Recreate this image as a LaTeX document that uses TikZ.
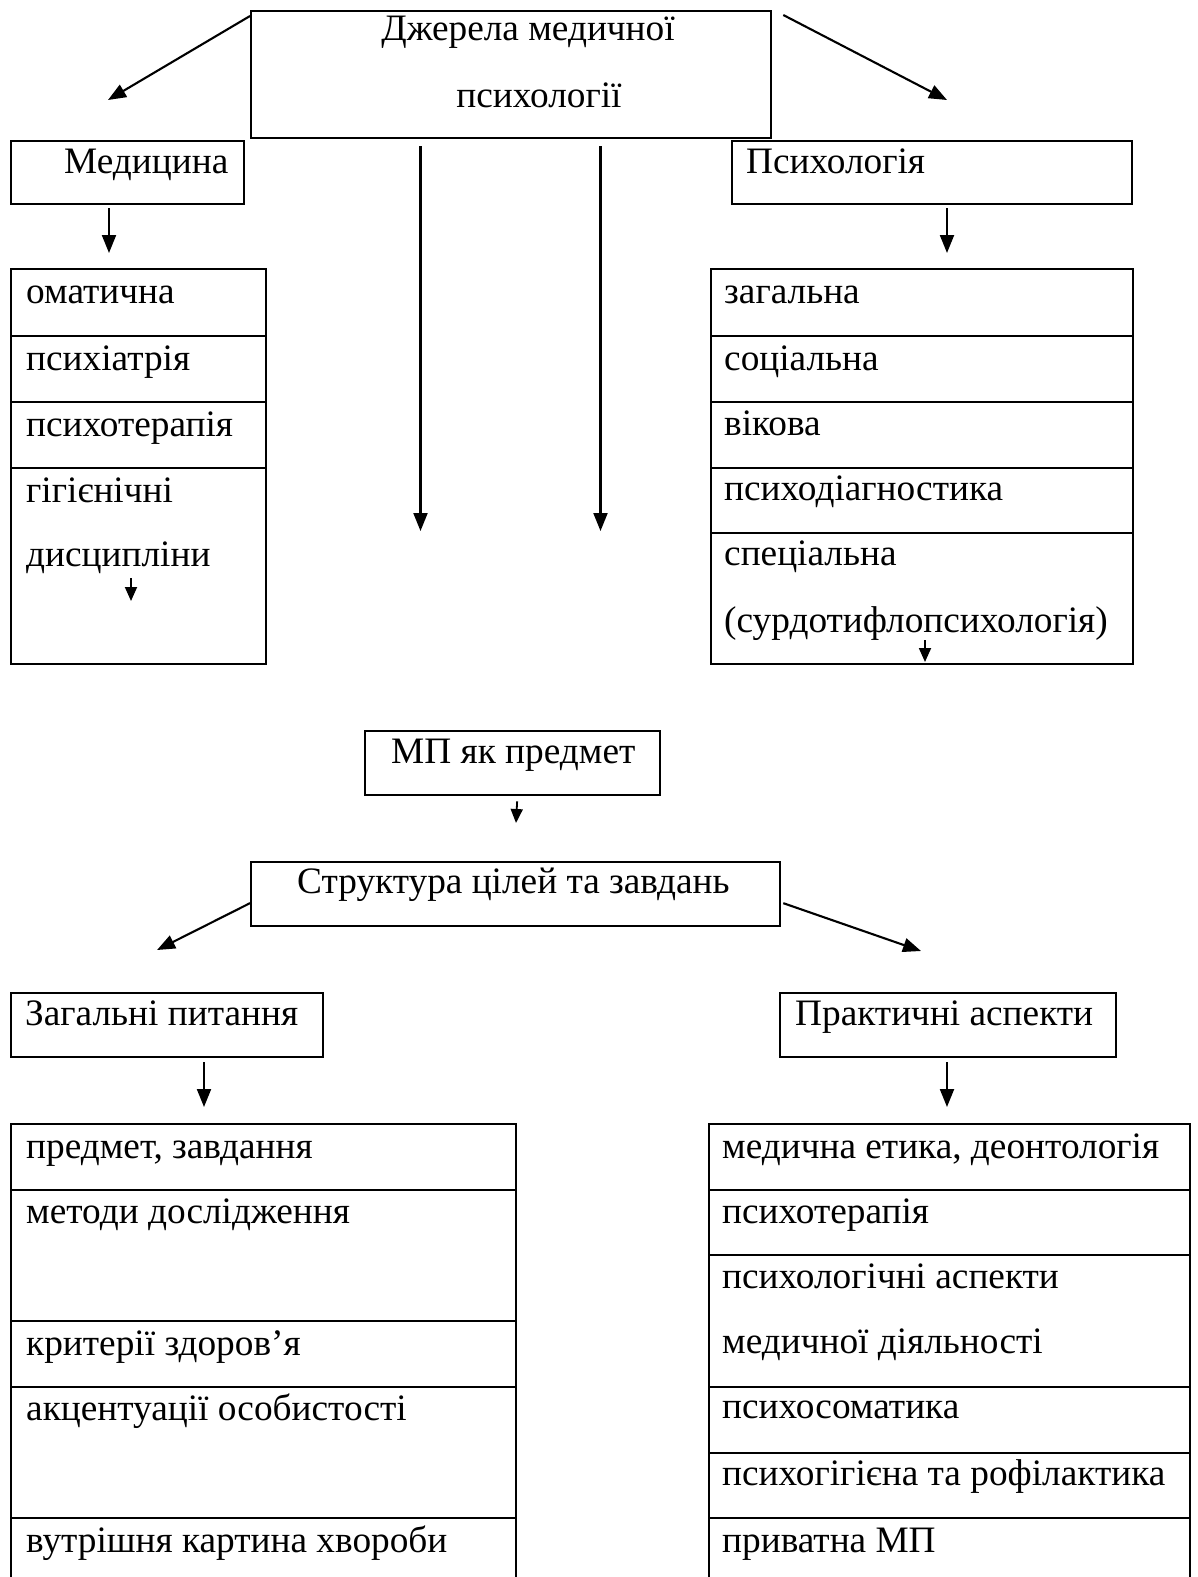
\documentclass[tikz,border=0pt]{standalone}
\usepackage{fontspec}
\setmainfont{Liberation Serif}
\usetikzlibrary{arrows.meta}
\begin{document}
\begin{tikzpicture}[x=1pt,y=-1pt,
  box/.style={draw, line width=2.3pt, inner sep=0pt, anchor=north west},
  txt/.style={anchor=base west, inner sep=0pt, font=\fontsize{37.3}{45}\selectfont},
  ctxt/.style={anchor=base, inner sep=0pt, font=\fontsize{37.3}{45}\selectfont},
  arr/.style={line width=2.1pt, -{Triangle[length=18pt,width=14pt]}},
  sarr/.style={line width=1.8pt, -{Triangle[length=14pt,width=12pt]}}]
\useasboundingbox (0,0) rectangle (1197,1577);
\clip (0,0) rectangle (1197,1577);

% top box
\node[box, minimum width=520pt, minimum height=127pt] (top) at (250,10) {};
\node[ctxt] (t1) at (528,40) {Джерела медичної};
\node[ctxt] (t2) at (539,107) {психології};

% medicine / psychology
\node[box, minimum width=233pt, minimum height=63pt] (med) at (10,140) {};
\node[txt] (medt) at (64,173) {Медицина};
\node[box, minimum width=400pt, minimum height=63pt] (psy) at (731,140) {};
\node[txt] (psyt) at (746,173) {Психологія};

% left list
\node[box, minimum width=255pt, minimum height=67pt] (l1) at (10,268) {};
\node[box, minimum width=255pt, minimum height=66pt] (l2) at (10,335) {};
\node[box, minimum width=255pt, minimum height=66pt] (l3) at (10,401) {};
\node[box, minimum width=255pt, minimum height=196pt] (l4) at (10,467) {};
\node[txt] (l1t) at (26,303) {оматична};
\node[txt] (l2t) at (26,370) {психіатрія};
\node[txt] (l3t) at (26,436) {психотерапія};
\node[txt] (l4t) at (26,502) {гігієнічні};
\node[txt] (l4u) at (26,566) {дисципліни};

% right list
\node[box, minimum width=422pt, minimum height=67pt] (r1) at (710,268) {};
\node[box, minimum width=422pt, minimum height=66pt] (r2) at (710,335) {};
\node[box, minimum width=422pt, minimum height=66pt] (r3) at (710,401) {};
\node[box, minimum width=422pt, minimum height=65pt] (r4) at (710,467) {};
\node[box, minimum width=422pt, minimum height=131pt] (r5) at (710,532) {};
\node[txt] (r1t) at (724,303) {загальна};
\node[txt] (r2t) at (724,370) {соціальна};
\node[txt] (r3t) at (724,435) {вікова};
\node[txt] (r4t) at (724,500) {психодіагностика};
\node[txt] (r5t) at (724,565) {спеціальна};
\node[txt] (r5u) at (724,632) {(сурдотифлопсихологія)};

% MP box and structure
\node[box, minimum width=295pt, minimum height=64pt] (mp) at (364,730) {};
\node[txt] (mpt) at (391,763) {МП як предмет};
\node[box, minimum width=529pt, minimum height=64pt] (str) at (250,861) {};
\node[txt] (strt) at (297,893) {Структура цілей та завдань};

\node[box, minimum width=312pt, minimum height=64pt] (zag) at (10,992) {};
\node[txt] (zagt) at (25,1025) {Загальні питання};
\node[box, minimum width=336pt, minimum height=64pt] (prak) at (779,992) {};
\node[txt] (prakt) at (795,1025) {Практичні аспекти};

% bottom left list
\node[box, minimum width=505pt, minimum height=66pt] (b1) at (10,1123) {};
\node[box, minimum width=505pt, minimum height=131pt] (b2) at (10,1189) {};
\node[box, minimum width=505pt, minimum height=66pt] (b3) at (10,1320) {};
\node[box, minimum width=505pt, minimum height=131pt] (b4) at (10,1386) {};
\node[box, minimum width=505pt, minimum height=90pt] (b5) at (10,1517) {};
\node[txt] (b1t) at (26,1158) {предмет, завдання};
\node[txt] (b2t) at (26,1223) {методи дослідження};
\node[txt] (b3t) at (26,1355) {критерії здоров’я};
\node[txt] (b4t) at (26,1420) {акцентуації особистості};
\node[txt] (b5t) at (26,1552) {вутрішня картина хвороби};

% bottom right list
\node[box, minimum width=481pt, minimum height=66pt] (p1) at (708,1123) {};
\node[box, minimum width=481pt, minimum height=65pt] (p2) at (708,1189) {};
\node[box, minimum width=481pt, minimum height=132pt] (p3) at (708,1254) {};
\node[box, minimum width=481pt, minimum height=66pt] (p4) at (708,1386) {};
\node[box, minimum width=481pt, minimum height=65pt] (p5) at (708,1452) {};
\node[box, minimum width=481pt, minimum height=90pt] (p6) at (708,1517) {};
\node[txt] (p1t) at (722,1158) {медична етика, деонтологія};
\node[txt] (p2t) at (722,1223) {психотерапія};
\node[txt] (p3t) at (722,1288) {психологічні аспекти};
\node[txt] (p3u) at (722,1353) {медичної діяльності};
\node[txt] (p4t) at (722,1418) {психосоматика};
\node[txt] (p5t) at (722,1485) {психогігієна та рофілактика};
\node[txt] (p6t) at (722,1552) {приватна МП};

% free arrow ends
\coordinate (eMed) at (108,100);
\coordinate (ePsy) at (947,100);
\coordinate (eMedD) at (109,253);
\coordinate (ePsyD) at (947,253);
\coordinate (eL1) at (420.5,531);
\coordinate (eL2) at (600.5,531);
\coordinate (eSL) at (131,601);
\coordinate (eSR) at (925,662);
\coordinate (eMP) at (516,823);
\coordinate (eStrL) at (157,950);
\coordinate (eStrR) at (921,951);
\coordinate (eZag) at (204,1107);
\coordinate (ePrak) at (947,1107);

% connectors
\draw[arr] ([yshift=-6pt]top.north west) -- (eMed);
\draw[arr] ([xshift=11pt,yshift=-5pt]top.north east) -- (ePsy);
\draw[arr] ([xshift=99pt,yshift=-3pt]med.south west) -- (eMedD);
\draw[arr] ([xshift=216pt,yshift=-3pt]psy.south west) -- (ePsyD);
\draw[arr] ([xshift=170.5pt,yshift=-7pt]top.south west) -- (eL1);
\draw[arr] ([xshift=350.5pt,yshift=-7pt]top.south west) -- (eL2);
\draw[sarr] ([xshift=121pt,yshift=-111pt]l4.north west) -- (eSL);
\draw[sarr] ([xshift=215pt,yshift=-108pt]r5.north west) -- (eSR);
\draw[sarr] ([xshift=4.5pt,yshift=-5pt]mp.south) -- (eMP);
\draw[arr] ([yshift=-9pt]str.west) -- (eStrL);
\draw[arr] ([xshift=2pt,yshift=-9pt]str.east) -- (eStrR);
\draw[arr] ([xshift=194pt,yshift=-4pt]zag.south west) -- (eZag);
\draw[arr] ([xshift=168pt,yshift=-4pt]prak.south west) -- (ePrak);
\end{tikzpicture}
\end{document}
